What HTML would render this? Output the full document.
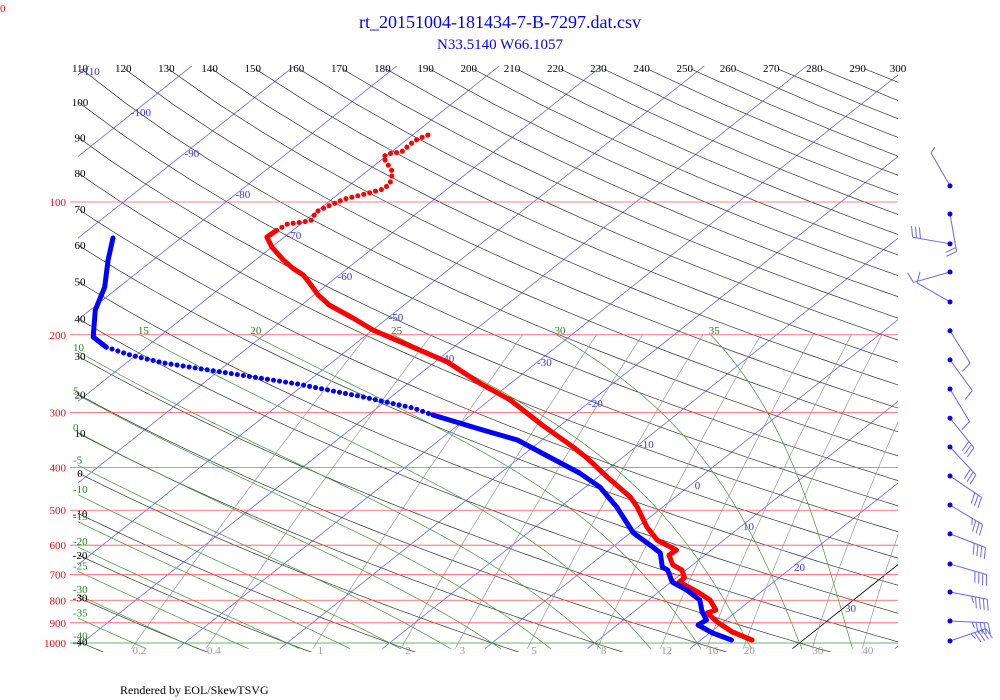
<!DOCTYPE html>
<html><head><meta charset="utf-8"><style>
html,body{margin:0;padding:0;background:#fff;}
svg{display:block;font-family:"Liberation Serif",serif;}
</style></head><body>
<svg id="chart" width="1000" height="700" viewBox="0 0 1000 700" xmlns="http://www.w3.org/2000/svg">
<defs><clipPath id="plotclip"><rect x="78" y="66" width="820" height="586"/></clipPath></defs>
<text x="500" y="28" font-size="18" fill="#0000ff" text-anchor="middle">rt_20151004-181434-7-B-7297.dat.csv</text>
<text x="500" y="49" font-size="15" fill="#0000ff" text-anchor="middle">N33.5140 W66.1057</text>
<text x="0" y="12" font-size="11" fill="#ff0000">0</text>
<text x="120" y="694" font-size="12" fill="#000">Rendered by EOL/SkewTSVG</text>
<g id="grid" clip-path="url(#plotclip)"></g>
<g id="labels"></g>
<g id="traces"></g>
<g id="barbs"></g>
</svg>
<script>
// ---- data ----
const tempPres = [70.5,72.0,73.5,77.0,77.8,79.0,85.5,90.6,93.4,95.9,98.5,102.6,105.4,109.9,111.0,112.2,116.4,120.1,126.5,135.3,141.2,146.4,152.7,162.5,171.2,183.2,195.0,213.3,230.5,257.2,281.2,320.5,359.4,380.6,420.3,466.6,491.6,545.8,584.2,615.6,631.9,665.7,683.3,712.0,727.2,770.3,798.9,841.6,854.8,896.0,944.2,984.5];
const tempVals = [-68.5,-69.0,-69.1,-69.0,-70.1,-70.2,-67.4,-66.3,-66.2,-67.4,-68.8,-69.6,-70.0,-69.4,-70.0,-71.3,-71.6,-71.7,-70.0,-67.3,-65.4,-63.5,-61.9,-59.6,-57.3,-53.4,-50.0,-44.0,-38.8,-33.1,-28.0,-21.8,-16.1,-13.4,-9.1,-4.4,-2.5,0.9,3.5,6.6,6.5,8.1,9.6,10.8,10.8,14.1,16.0,17.8,17.3,19.4,22.1,25.0];
const dewPres = [120.7,135.3,155.9,175.8,202.4,213.3,222.3,231.7,242.8,258.6,276.8,293.2,304.1,328.9,346.5,378.6,411.6,442.8,491.6,562.9,605.6,625.2,672.4,683.3,727.2,758.3,798.9,850.4,886.7,910.4,949.1,984.5];
const dewVals = [-86.6,-84.4,-81.4,-79.5,-76.4,-73.9,-70.6,-66.4,-59.7,-50.7,-42.7,-36.5,-33.7,-27.0,-22.4,-17.2,-12.3,-8.6,-4.5,0.3,3.9,5.4,7.3,8.2,10.1,12.5,15.0,16.7,18.1,17.9,20.3,23.0];
const windPres = [91.9,106.5,124.4,144.1,168.5,195.9,228.0,265.5,309.2,359.4,418.2,486.5,565.6,662.2,766.4,891.2,989.6];
const windAngle = [-120,80,-170,164,-150,58,54,59,51,47,34,31,21,16,11,3,-19];
const windSpeed = [5,20,30,10,10,10,10,10,30,30,30,35,40,40,45,45,45];
const pressureLevels = [100,200,300,400,500,600,700,800,900,1000];
const thetaLevels = [];
for (let t=-40;t<=300;t+=10) thetaLevels.push(t);
const isoLevels = [];
for (let t=-110;t<=40;t+=10) isoLevels.push(t);
const moistLevels = [-40,-35,-30,-25,-20,-15,-10,-5,0,5,10,15,20,25,30,35];
const mixLevels = [0.2,0.4,1,2,3,5,8,12,16,20,30,40];

// ---- axes ----
const NS='http://www.w3.org/2000/svg';
function yP(p){return 643-441*Math.log10(1000/p);}
function xT(T,p){return 492+10.25*T+1.256*(643-yP(p));}
function mk(tag,attrs,parent){const e=document.createElementNS(NS,tag);for(const k in attrs)e.setAttribute(k,attrs[k]);parent.appendChild(e);return e;}
const grid=document.getElementById('grid'),labels=document.getElementById('labels'),traces=document.getElementById('traces'),barbs=document.getElementById('barbs');
function ptsStr(arr){return arr.map(a=>a[0].toFixed(1)+','+a[1].toFixed(1)).join(' ');}
function txt(x,y,s,fill,size,anchor,parent){const t=mk('text',{x:x,y:y,fill:fill,'font-size':size,'text-anchor':anchor||'middle'},parent);t.textContent=s;return t;}

// pressure lines
pressureLevels.forEach(p=>{
  const y=yP(p);
  const l=mk('line',{x1:70,x2:898,y1:y,y2:y,stroke:p===1000?'#3a9a3a':'#ff5555','stroke-width':0.8},labels);
  
  
  const t=txt(66,y+4,String(p),'#ff0000',11,'end',labels);
  
  
});

// isotherms
isoLevels.forEach(T=>{
  const l=mk('line',{x1:xT(T,1030),y1:yP(1030),x2:xT(T,48),y2:yP(48),stroke:T===30?'#000':'#6666ff','stroke-width':0.8},grid);
  
  
  let y;
  if(T<=-40) y=71+41*(T+110)/10; else y=362+41*(T+30)/10;
  if(T<=30){
    const p=1000*Math.pow(10,-(643-y)/441);
    const t=txt(xT(T,p)+7,y+4,String(T),'#3333ff',11,'middle',labels);
    
    
  }
});

// dry adiabats
function dryT(th,p){return (th+273.15)*Math.pow(p/1000,0.2857)-273.15;}
thetaLevels.forEach(th=>{
  const pts=[];
  for(let p=1050;p>=48;p-=10) pts.push([xT(dryT(th,p),p),yP(p)]);
  const l=mk('polyline',{points:ptsStr(pts),fill:'none',stroke:'#333','stroke-width':0.7},grid);
  
  
  const xt=xT(dryT(th,50),50);
  if(th>=110){
    const t=txt(Math.min(80+(th-110)*4.32,898),72,String(th),'#000',11,'middle',labels);
    
    
  } else {
    let lo=50,hi=1100;
    for(let i=0;i<40;i++){const m=(lo+hi)/2; if(xT(dryT(th,m),m)<78) lo=m; else hi=m;}
    if(lo<1030){
      const t=txt(80,yP(lo)+4,String(th),'#000',11,'middle',labels);
      
      
    }
  }
});

// mixing ratio lines
function mixT(w,p){const e=w*p/(622+w);const l=Math.log(e/6.112);return 243.5*l/(17.67-l);}
mixLevels.forEach(w=>{
  const pts=[];
  for(let p=1030;p>=200;p-=10) pts.push([xT(mixT(w,p),p),yP(p)]);
  const l=mk('polyline',{points:ptsStr(pts),fill:'none',stroke:'#999','stroke-width':0.7},grid);
  
  
  const t=txt(xT(mixT(w,1000),1000)+4,654,String(w),'#999',11,'middle',labels);
  
  
});

// moist adiabats
function es(T){return 6.112*Math.exp(17.67*T/(T+243.5));}
function moistSlope(T,p){const Tk=T+273.15;const e=es(T);const rs=0.622*e/(p-e);
  return (287*Tk+2.5e6*rs)/(1004+2.5e6*2.5e6*rs*0.622/(287*Tk*Tk))/p;}
moistLevels.forEach(tw=>{
  const pts=[];let T=tw;let p=1000;
  pts.push([xT(tw+moistSlope(tw,1000)*30,1030),yP(1030)]);
  while(p>=200){pts.push([xT(T,p),yP(p)]);const dp=-2;T+=moistSlope(T,p)*dp;p+=dp;}
  const l=mk('polyline',{points:ptsStr(pts),fill:'none',stroke:'#3c963c','stroke-width':0.7},grid);
  
  
  const last=pts[pts.length-1];
  let lx,ly;
  if(last[0]>=85){lx=last[0]-2;ly=last[1]-1;}
  else{ for(let i=pts.length-1;i>=0;i--){if(pts[i][0]>=78){lx=73;ly=pts[i][1]-2;break;}} }
  if(lx!==undefined){
    const t=txt(lx,ly,String(tw),'#228822',11,'start',labels);
    
    
  }
});

// traces
function drawTrace(pres,vals,color,name,sparse){
  let seg=[],segSparse=null,k=0;
  const flush=()=>{
    if(seg.length>1){
      const attrs={points:ptsStr(seg),fill:'none',stroke:color,'stroke-width':5,'stroke-linejoin':'round','stroke-linecap':'round'};
      if(segSparse){attrs['stroke-dasharray']='0.1 6';}
      const l=mk('polyline',attrs,traces);
      
      
      k++;
    }
  };
  pres.forEach((p,i)=>{
    const pt=[xT(vals[i],p),yP(p)];
    const s=sparse(p);
    if(segSparse!==null && s!==segSparse){seg.push(pt);flush();seg=[pt];}
    else seg.push(pt);
    segSparse=s;
  });
  flush();
}
drawTrace(tempPres,tempVals,'#ff0000','temperature-trace',p=>p<113);
drawTrace(dewPres,dewVals,'#0000ff','dewpoint-trace',p=>p>212&&p<295);

// wind barbs
windPres.forEach((p,i)=>{
  const x0=950,y0=yP(p);
  const a=windAngle[i]*Math.PI/180;
  const L=38;
  const ux=Math.cos(a),uy=Math.sin(a);
  const ex=x0+ux*L,ey=y0+uy*L;
  const g=mk('g',{},barbs);
  
  
  mk('line',{x1:x0,y1:y0,x2:ex,y2:ey,stroke:'#6666ff','stroke-width':1},g);
  let s=windSpeed[i];let k=0;
  const px=-uy,py=ux;
  while(s>=5){
    const full=s>=10;const fl=full?11:6;
    const bx=ex-ux*4*k,by=ey-uy*4*k;
    mk('line',{x1:bx,y1:by,x2:bx+px*fl+ux*3,y2:by+py*fl+uy*3,stroke:'#6666ff','stroke-width':1},g);
    s-=full?10:5;k++;
  }
  mk('circle',{cx:x0,cy:y0,r:2.5,fill:'#0000ff'},g);
});
</script>
</body></html>
